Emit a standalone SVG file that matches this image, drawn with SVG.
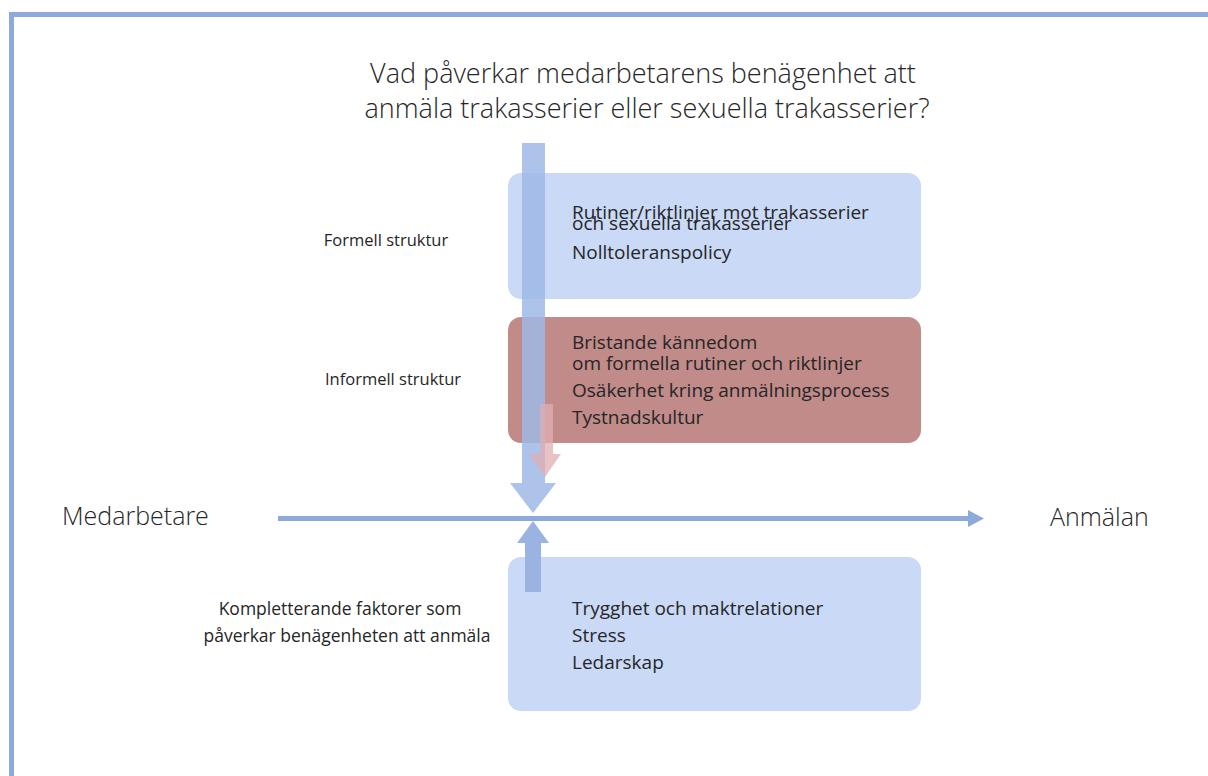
<svg xmlns="http://www.w3.org/2000/svg" width="1208" height="776" viewBox="0 0 1208 776">
<style>
  text { font-family: "Open Sans", "Noto Sans", "Liberation Sans", sans-serif; fill: #262626; }
  .title { font-size: 27px; font-weight: 300; text-anchor: middle; }
  .lbl { font-size: 16.5px; text-anchor: middle; }
  .lbl2 { font-size: 17.5px; text-anchor: middle; }
  .big { font-size: 25px; font-weight: 300; }
  .item { font-size: 19px; }
  .blue { fill: #c9d9f6; }
  .rose { fill: #c18b89; }
</style>
<rect width="1208" height="776" fill="#ffffff"/>
<g id="frame">
  <rect x="9" y="12" width="1199" height="5" fill="#8eaadc"/>
  <rect x="9" y="12" width="5" height="764" fill="#8eaadc"/>
</g>
<g id="title">
  <text class="title" x="643" y="83">Vad påverkar medarbetarens benägenhet att</text>
  <text class="title" x="647" y="118">anmäla trakasserier eller sexuella trakasserier?</text>
</g>
<g id="formell">
  <rect class="blue" x="508" y="173" width="413" height="126" rx="13"/>
  <text class="item" x="572" y="219">Rutiner/riktlinjer mot trakasserier</text>
  <text class="item" x="572" y="230">och sexuella trakasserier</text>
  <text class="item" x="572" y="259">Nolltoleranspolicy</text>
  <text class="lbl" x="386" y="246">Formell struktur</text>
</g>
<g id="informell">
  <rect class="rose" x="508" y="317" width="413" height="126" rx="13"/>
  <text class="item" x="572" y="349">Bristande kännedom</text>
  <text class="item" x="572" y="370">om formella rutiner och riktlinjer</text>
  <text class="item" x="572" y="397">Osäkerhet kring anmälningsprocess</text>
  <text class="item" x="572" y="424">Tystnadskultur</text>
  <text class="lbl" x="393" y="385">Informell struktur</text>
</g>
<g id="komplett">
  <rect class="blue" x="508" y="557" width="413" height="154" rx="13"/>
  <text class="item" x="572" y="615">Trygghet och maktrelationer</text>
  <text class="item" x="572" y="642">Stress</text>
  <text class="item" x="572" y="669">Ledarskap</text>
  <text class="lbl2" x="340" y="615">Kompletterande faktorer som</text>
  <text class="lbl2" x="347" y="642">påverkar benägenheten att anmäla</text>
</g>
<g id="medarbetare">
  <text class="big" x="62" y="525">Medarbetare</text>
</g>
<g id="anmalan">
  <text class="big" x="1050" y="526">Anmälan</text>
</g>
<g id="connectors">
  <path d="M522 143 H545 V483 H556 L533 513 L510 483 H522 Z" fill="#9fb8e6" fill-opacity="0.85"/>
  <path d="M540 404 H553 V454 H561 L545 477 L529 454 H540 Z" fill="#e0aeb0" fill-opacity="0.75"/>
  <path d="M278 516 H968 V510 L984 518.5 L968 527 V521 H278 Z" fill="#8eaadc"/>
  <path d="M525 592 V543 H517 L533 521 L549 543 H541 V592 Z" fill="#9ab3e2"/>
</g>
</svg>
